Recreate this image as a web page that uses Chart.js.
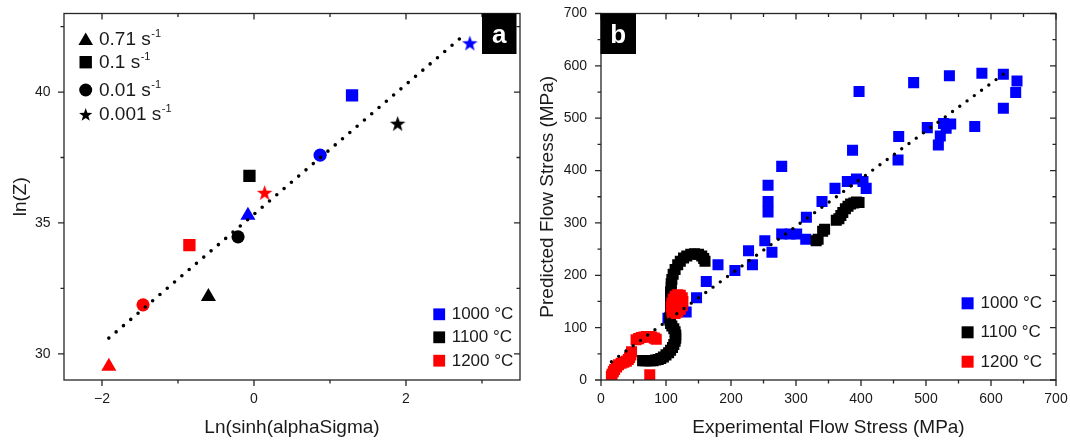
<!DOCTYPE html>
<html>
<head>
<meta charset="utf-8">
<title>Constitutive model: ln(Z) fit and predicted vs experimental flow stress</title>
<script src="https://cdn.jsdelivr.net/npm/chart.js@4.4.1/dist/chart.umd.min.js"></script>
<style>
  html, body { margin: 0; padding: 0; background: #fff; }
  #wrap { position: relative; width: 1070px; height: 444px; overflow: hidden; background: #fff; }
  canvas { position: absolute; top: 0; }
  #chartA { left: 0; }
  #chartB { left: 535px; }
</style>
</head>
<body>
<div id="wrap">
  <canvas id="chartA" width="535" height="444"></canvas>
  <canvas id="chartB" width="535" height="444"></canvas>
</div>
<script>
// ---------------- shared labels ----------------
const tempLabels = ['1000 °C', '1100 °C', '1200 °C'];
const rateValues = ['0.71', '0.1', '0.01', '0.001'];   // strain rates, each shown as "x s^-1"

// ---------------- panel (a): ln(Z) vs ln(sinh(alpha*sigma)) ----------------
// point order in each array follows rateValues: 0.71, 0.1, 0.01, 0.001 s^-1
const lnSinh1000 = [-0.08, 1.29, 0.87, 2.84];
const lnZ1000    = [35.29, 39.87, 37.59, 41.84];
const lnSinh1100 = [-0.60, -0.06, -0.21, 1.89];
const lnZ1100    = [32.18, 36.80, 34.47, 38.77];
const lnSinh1200 = [-1.91, -0.85, -1.46, 0.14];
const lnZ1200    = [29.52, 34.15, 31.87, 36.13];
// linear regression line end points
const fitAX = [-1.91, 2.78];
const fitAY = [30.60, 42.22];
// axis ticks
const ticksAX = [-2, 0, 2];
const minorAX = [-1, 1, 3];
const ticksAY = [30, 35, 40];
const minorAY = [32.5, 37.5, 42.5];

// ---------------- panel (b): predicted vs experimental flow stress (MPa) ----------------
const exp1000  = [103, 131, 147, 162, 180, 206, 227, 233, 252, 263, 257, 257, 257, 278, 278,
                  291, 301, 315, 316, 340, 360, 379, 393, 403, 408, 397, 387, 458, 457, 481,
                  502, 519, 522, 527, 531, 538, 536, 575, 586, 619, 619, 638, 640];
const pred1000 = [118, 130, 157, 188, 220, 209, 247, 220, 266, 244, 372, 341, 321, 408, 279,
                  279, 279, 269, 311, 341, 366, 379, 384, 379, 366, 551, 439, 465, 420, 568,
                  482, 449, 466, 490, 481, 489, 581, 484, 586, 519, 584, 549, 571];
const exp1100  = [64, 68, 72, 76, 80, 84, 88, 92, 96, 100, 104, 107, 110, 112, 114,
                  115, 115, 114, 112, 109, 107, 106, 106, 107, 107, 107, 107, 107, 107, 108,
                  108, 109, 111, 114, 118, 122, 127, 132, 138, 144, 150, 155, 158, 160,
                  331, 334, 341, 344, 362, 366, 369, 372, 376, 380, 384, 389, 393, 397];
const pred1100 = [37, 37, 37, 37, 37, 38, 39, 41, 44, 48, 52, 57, 62, 68, 74,
                  80, 86, 92, 98, 103, 108, 114, 120, 128, 136, 144, 152, 160, 168, 176,
                  184, 192, 202, 211, 220, 227, 233, 237, 240, 241, 240, 237, 232, 227,
                  266, 269, 284, 288, 305, 308, 314, 320, 327, 332, 336, 338, 340, 339];
const exp1200  = [16, 17, 19, 21, 24, 27, 31, 35, 39, 42, 44, 46, 47,
                  54, 58, 62, 66, 70, 74, 78, 82, 85,
                  75,
                  110, 114, 118, 122, 125, 126, 125, 122, 118, 114, 111, 109, 108, 109, 117];
const pred1200 = [7, 11, 16, 20, 25, 29, 32, 34, 36, 39, 43, 48, 54,
                  77, 79, 81, 82, 83, 83, 82, 80, 78,
                  10,
                  128, 127, 130, 135, 142, 150, 157, 162, 163, 160, 154, 147, 140, 133, 145];
const fitBX = [16, 629];
const fitBY = [35, 593];
const ticksB = [0, 100, 200, 300, 400, 500, 600, 700];
const minorB = [50, 150, 250, 350, 450, 550, 650];

// ---------------- styling ----------------
const FONT = "'Liberation Sans', Arial, Helvetica, sans-serif";
const INK = '#1a1a1a';
const COLORS = ['#0000ff', '#000000', '#ff0000'];
Chart.defaults.font.family = FONT;
Chart.defaults.color = INK;

const pts = (xs, ys) => xs.map((x, i) => ({ x, y: ys[i] }));

// filled five-point star used as a point style
function starImage(color, R) {
  const size = Math.ceil(2 * R + 2);
  const c = document.createElement('canvas');
  c.width = c.height = size;
  const g = c.getContext('2d');
  g.fillStyle = color;
  starPath(g, size / 2, size / 2, R);
  g.fill();
  return c;
}
function starPath(g, cx, cy, R) {
  const r = R * 0.40;
  g.beginPath();
  for (let i = 0; i < 10; i++) {
    const ang = -Math.PI / 2 + i * Math.PI / 5;
    const rad = i % 2 ? r : R;
    g.lineTo(cx + rad * Math.cos(ang), cy + rad * Math.sin(ang));
  }
  g.closePath();
}

// box frame with major/minor ticks: outward on bottom/left, inward on top/right
function drawFrame(ctx, a, xs, ys, xMajor, xMinor, yMajor, yMinor) {
  ctx.save();
  ctx.strokeStyle = '#262626';
  ctx.lineWidth = 1.3;
  ctx.strokeRect(a.left, a.top, a.right - a.left, a.bottom - a.top);
  ctx.beginPath();
  const X = (vals, len) => vals.forEach(v => {
    const p = xs.getPixelForValue(v);
    ctx.moveTo(p, a.bottom); ctx.lineTo(p, a.bottom + len);
    ctx.moveTo(p, a.top); ctx.lineTo(p, a.top + len);
  });
  const Y = (vals, len) => vals.forEach(v => {
    const p = ys.getPixelForValue(v);
    ctx.moveTo(a.left, p); ctx.lineTo(a.left - len, p);
    ctx.moveTo(a.right, p); ctx.lineTo(a.right - len, p);
  });
  X(xMajor, 6); X(xMinor, 3.5); Y(yMajor, 6); Y(yMinor, 3.5);
  ctx.stroke();
  ctx.restore();
}

// black panel tag with a white bold letter
function drawTag(ctx, x, y, w, h, letter) {
  ctx.save();
  ctx.fillStyle = '#000';
  ctx.fillRect(x, y, w, h);
  ctx.fillStyle = '#fff';
  ctx.font = 'bold 26px ' + FONT;
  ctx.textAlign = 'center';
  ctx.textBaseline = 'alphabetic';
  ctx.fillText(letter, x + w / 2, y + 29.8);
  ctx.restore();
}

// temperature key: colored squares with labels
function drawTempKey(ctx, cx, cys, side, textX) {
  ctx.save();
  ctx.font = '17px ' + FONT;
  ctx.textBaseline = 'middle';
  ctx.textAlign = 'left';
  tempLabels.forEach((lab, i) => {
    ctx.fillStyle = COLORS[i];
    ctx.fillRect(cx - side / 2, cys[i] - side / 2, side, side);
    ctx.fillStyle = INK;
    ctx.fillText(lab, textX, cys[i] + 0.5);
  });
  ctx.restore();
}

function axisCommon(min, max, major, fmt, tickPad) {
  return {
    type: 'linear', min, max,
    afterBuildTicks: s => { s.ticks = major.map(v => ({ value: v })); },
    ticks: {
      autoSkip: false, maxRotation: 0, padding: tickPad,
      font: { size: 14 }, color: INK,
      callback: v => fmt(v)
    },
    grid: { display: false, drawTicks: false },
    border: { display: false }
  };
}
const fmtNum = v => String(v).replace('-', '\u2212');

// ---------------- chart (a) ----------------
const rateStyles = ['triangle', 'rect', 'circle', null];
const rateRadius = [8.7, 8.7, 6.6, 8.2];
function rateDataset(xs, ys, colorIdx) {
  const star = starImage(COLORS[colorIdx], 8.2);
  return {
    label: tempLabels[colorIdx],
    data: pts(xs, ys),
    pointStyle: rateStyles.map(s => s || star),
    pointRadius: rateRadius,
    pointBorderWidth: 0,
    backgroundColor: COLORS[colorIdx],
    borderColor: COLORS[colorIdx],
    showLine: false,
    order: 1 + colorIdx
  };
}

const panelADecor = {
  id: 'panelADecor',
  afterDraw(chart) {
    const { ctx, chartArea: a, scales } = chart;
    drawFrame(ctx, a, scales.x, scales.y, ticksAX, minorAX, ticksAY, minorAY);
    drawTag(ctx, a.right - 38, a.top, 34.5, 40.5, 'a');

    // strain-rate key (black symbols)
    const sx = a.left + 21.7;
    const symY = [a.top + 25.2, a.top + 48.7, a.top + 76.5, a.top + 101];
    const baseY = [a.top + 31.5, a.top + 54.8, a.top + 82.5, a.top + 106.5];
    ctx.save();
    ctx.fillStyle = '#000';
    // triangle
    ctx.beginPath();
    ctx.moveTo(sx, symY[0] - 6.3);
    ctx.lineTo(sx + 7.3, symY[0] + 6.3);
    ctx.lineTo(sx - 7.3, symY[0] + 6.3);
    ctx.closePath(); ctx.fill();
    // square
    ctx.fillRect(sx - 6.2, symY[1] - 6.2, 12.4, 12.4);
    // circle
    ctx.beginPath(); ctx.arc(sx, symY[2], 6.5, 0, Math.PI * 2); ctx.fill();
    // star
    starPath(ctx, sx, symY[3] + 0.6, 7.0); ctx.fill();

    ctx.fillStyle = INK;
    ctx.textAlign = 'left';
    ctx.textBaseline = 'alphabetic';
    rateValues.forEach((r, i) => {
      ctx.font = '19px ' + FONT;
      const main = r + ' s';
      const tx = a.left + 35;
      ctx.fillText(main, tx, baseY[i]);
      const w = ctx.measureText(main).width;
      ctx.font = '11px ' + FONT;
      ctx.fillText('-1', tx + w + 0.5, baseY[i] - 8.5);
    });
    ctx.restore();

    drawTempKey(ctx, a.right - 80.8, [a.bottom - 65.7, a.bottom - 42.7, a.bottom - 19.3], 11.8, a.right - 68.3);
  }
};

new Chart(document.getElementById('chartA'), {
  type: 'scatter',
  data: {
    datasets: [
      {
        label: 'fit',
        data: pts(fitAX, fitAY),
        showLine: true,
        pointRadius: 0,
        borderColor: '#000',
        borderWidth: 3.6,
        borderDash: [0, 9.6],
        borderCapStyle: 'round',
        tension: 0,
        order: 0
      },
      rateDataset(lnSinh1000, lnZ1000, 0),
      rateDataset(lnSinh1100, lnZ1100, 1),
      rateDataset(lnSinh1200, lnZ1200, 2)
    ]
  },
  options: {
    responsive: false,
    animation: false,
    events: [],
    layout: { padding: { left: 0, right: 15, top: 13.5, bottom: 0 } },
    plugins: { legend: { display: false }, tooltip: { enabled: false } },
    scales: {
      x: Object.assign(axisCommon(-2.5, 3.5, ticksAX, fmtNum, 10.5), {
        title: { display: true, text: 'Ln(sinh(alphaSigma)', font: { size: 19 }, color: INK, padding: { top: 0, bottom: 5 } },
        afterFit: s => { s.height = 64; s.paddingLeft = 0; s.paddingRight = 0; }
      }),
      y: Object.assign(axisCommon(29, 43, ticksAY, fmtNum, 13.5), {
        title: { display: true, text: 'ln(Z)', font: { size: 19 }, color: INK, padding: { top: 9, bottom: 0 } },
        afterFit: s => { s.width = 64; s.paddingTop = 0; s.paddingBottom = 0; }
      })
    }
  },
  plugins: [panelADecor]
});

// ---------------- chart (b) ----------------
const panelBDecor = {
  id: 'panelBDecor',
  afterDraw(chart) {
    const { ctx, chartArea: a, scales } = chart;
    drawFrame(ctx, a, scales.x, scales.y, ticksB, minorB, ticksB, minorB);
    drawTag(ctx, a.left - 0.5, a.top, 35.5, 40.5, 'b');
    drawTempKey(ctx, a.right - 88.4, [a.bottom - 76.7, a.bottom - 47.7, a.bottom - 18.3], 12, a.right - 75.5);
  }
};

function stressDataset(xs, ys, colorIdx, order) {
  return {
    label: tempLabels[colorIdx],
    data: pts(xs, ys),
    pointStyle: 'rect',
    pointRadius: 7.8,
    pointBorderWidth: 0,
    backgroundColor: COLORS[colorIdx],
    borderColor: COLORS[colorIdx],
    showLine: false,
    order
  };
}

new Chart(document.getElementById('chartB'), {
  type: 'scatter',
  data: {
    datasets: [
      {
        label: 'fit',
        data: pts(fitBX, fitBY),
        showLine: true,
        pointRadius: 0,
        borderColor: '#000',
        borderWidth: 3.4,
        borderDash: [0, 9],
        borderCapStyle: 'round',
        tension: 0,
        order: 0
      },
      stressDataset(exp1200, pred1200, 2, 1),
      stressDataset(exp1100, pred1100, 1, 2),
      stressDataset(exp1000, pred1000, 0, 3)
    ]
  },
  options: {
    responsive: false,
    animation: false,
    events: [],
    layout: { padding: { left: 0, right: 14, top: 13.5, bottom: 0 } },
    plugins: { legend: { display: false }, tooltip: { enabled: false } },
    scales: {
      x: Object.assign(axisCommon(0, 700, ticksB, String, 10.5), {
        title: { display: true, text: 'Experimental Flow Stress (MPa)', font: { size: 19 }, color: INK, padding: { top: 0, bottom: 5 } },
        afterFit: s => { s.height = 64; s.paddingLeft = 0; s.paddingRight = 0; }
      }),
      y: Object.assign(axisCommon(0, 700, ticksB, String, 14), {
        title: { display: true, text: 'Predicted Flow Stress (MPa)', font: { size: 19 }, color: INK, padding: { top: 1, bottom: 0 } },
        afterFit: s => { s.width = 66; s.paddingTop = 0; s.paddingBottom = 0; }
      })
    }
  },
  plugins: [panelBDecor]
});
</script>
</body>
</html>
